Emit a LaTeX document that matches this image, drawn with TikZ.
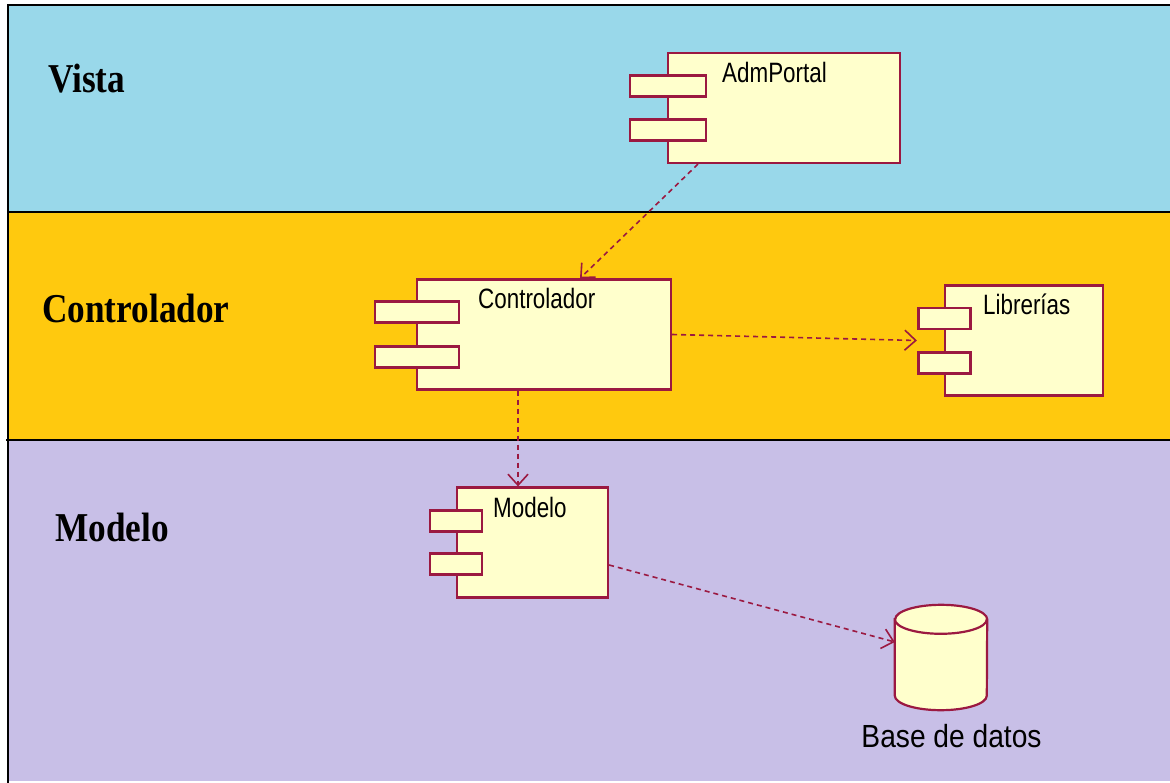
\documentclass[tikz,border=0pt]{standalone}
\usepackage{fontspec}
\usetikzlibrary{arrows.meta}

\newfontfamily\layerfont[FakeStretch=0.86]{Liberation Serif}
\newfontfamily\compfont[FakeStretch=0.8]{Liberation Sans}
\newfontfamily\dbfont[FakeStretch=0.88]{Liberation Sans}

\definecolor{vistablue}{RGB}{153,216,234}
\definecolor{ctrlgold}{RGB}{255,201,14}
\definecolor{modellilac}{RGB}{200,191,231}
\definecolor{compfill}{RGB}{255,255,204}
\definecolor{compline}{RGB}{155,25,65}

\begin{document}
\begin{tikzpicture}[
  x=1pt, y=-1pt,
  layertitle/.style={anchor=base west, inner sep=0pt, font=\layerfont\bfseries\fontsize{41}{41}\selectfont},
  component/.style={draw=compline, fill=compfill, line width=2.2pt, minimum height=110pt, inner sep=0pt},
  port/.style={draw=compline, fill=compfill, line width=2.2pt, minimum height=21pt, inner sep=0pt},
  compname/.style={anchor=base west, inner sep=0pt, font=\compfont\fontsize{28}{28}\selectfont},
  arrow/.style={compline, line width=1.6pt, dash pattern=on 5pt off 4pt, -{Straight Barb[length=11pt,width=20pt]}}
]
  \useasboundingbox (0,0) rectangle (1170,783);

  % layers
  \fill[vistablue] (8,5) rectangle (1172,212);
  \fill[ctrlgold] (8,212) rectangle (1172,440);
  \fill[modellilac] (8,440) rectangle (1172,781);
  \draw[line width=2.4pt] (1172,5) -- (8,5) -- (8,783);
  \draw[line width=2.4pt] (8,212) -- (1172,212);
  \draw[line width=2.4pt] (6,440) -- (1172,440);

  \node[layertitle] (vista) at (48,93) {Vista};
  \node[layertitle] (control) at (42,323) {Controlador};
  \node[layertitle] (modelo) at (55,541) {Modelo};

  % components
  \node[component, minimum width=232pt] (adm) at (784,108) {};
  \node[port, minimum width=76pt] (admp1) at (668,86) {};
  \node[port, minimum width=76pt] (admp2) at (668,130) {};
  \node[compname] (admtxt) at (722,83) {AdmPortal};

  \node[component, minimum width=254pt] (ctrl) at (544,334.5) {};
  \node[port, minimum width=84pt] (ctrlp1) at (417,312) {};
  \node[port, minimum width=84pt] (ctrlp2) at (417,357) {};
  \node[compname] (ctrltxt) at (478,309) {Controlador};

  \node[component, minimum width=158pt] (lib) at (1024,340.5) {};
  \node[port, minimum width=52pt] (libp1) at (944.5,318.5) {};
  \node[port, minimum width=52pt] (libp2) at (944.5,363) {};
  \node[compname] (libtxt) at (983,315) {Librerías};

  \node[component, minimum width=151pt] (mod) at (532.5,542.5) {};
  \node[port, minimum width=52pt] (modp1) at (456,521) {};
  \node[port, minimum width=52pt] (modp2) at (456,564) {};
  \node[compname] (modtxt) at (493,517) {Modelo};

  % database drum
  \node[minimum width=92pt, minimum height=105pt, inner sep=0pt] (db) at (941,657.5) {};
  \draw[compline, fill=compfill, line width=2.2pt]
    ([yshift=-14.5pt]db.north west) -- ([yshift=14.5pt]db.south west)
    arc[start angle=180, end angle=360, x radius=46pt, y radius=14.5pt]
    -- ([yshift=-14.5pt]db.north east)
    arc[start angle=0, end angle=180, x radius=46pt, y radius=14.5pt] -- cycle;
  \draw[compline, line width=2.2pt] ([yshift=-14.5pt]db.north west)
    arc[start angle=180, end angle=360, x radius=46pt, y radius=14.5pt];
  \node[inner sep=0pt, anchor=base, font=\dbfont\fontsize{32}{32}\selectfont] (dbtxt) at (951.5,747) {Base de datos};

  % dependencies
  \draw[arrow] ([xshift=-86pt]adm.south) -- ([xshift=36pt]ctrl.north);
  \draw[arrow] (ctrl.east) -- ([xshift=-27pt]lib.west);
  \draw[arrow] ([xshift=-26pt]ctrl.south) -- ([xshift=-14.5pt]mod.north);
  \draw[arrow] ([yshift=-22.5pt]mod.east) -- ([yshift=15.5pt]db.west);
\end{tikzpicture}
\end{document}
